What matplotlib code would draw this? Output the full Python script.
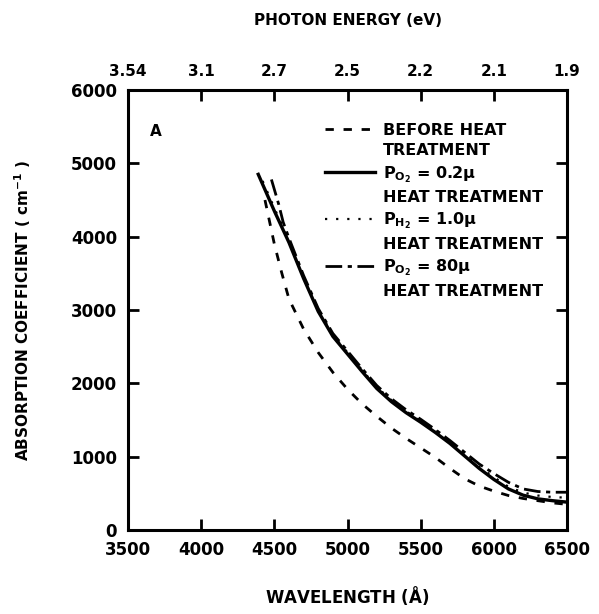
import numpy as np
import matplotlib
matplotlib.use("Agg")
import matplotlib.pyplot as plt
from matplotlib.lines import Line2D

# wavelength (Angstrom) and absorption coefficient (cm^-1)
wl_before = [4436, 4500, 4550, 4600, 4700, 4800, 4900, 5000, 5100, 5200, 5300, 5400,
             5500, 5600, 5700, 5800, 5900, 6000, 6100, 6200, 6300, 6400, 6500]
a_before = [4500, 3900, 3510, 3150, 2740, 2420, 2150, 1920, 1720, 1550, 1390, 1250,
            1120, 990, 840, 700, 600, 530, 470, 430, 400, 370, 350]

wl_o2_low = [4390, 4500, 4600, 4700, 4800, 4900, 5000, 5100, 5200, 5300, 5400,
             5500, 5600, 5700, 5800, 5900, 6000, 6100, 6200, 6300, 6400, 6500]
a_o2_low = [4850, 4350, 3920, 3430, 2980, 2640, 2400, 2160, 1930, 1750, 1600,
            1470, 1330, 1180, 1010, 840, 690, 560, 475, 425, 400, 380]

wl_h2 = [4420, 4500, 4600, 4700, 4800, 4900, 5000, 5100, 5200, 5300, 5400,
         5500, 5600, 5700, 5800, 5900, 6000, 6100, 6200, 6300, 6400, 6500]
a_h2 = [4760, 4390, 3950, 3450, 3000, 2660, 2420, 2180, 1950, 1770, 1620,
        1490, 1350, 1200, 1030, 860, 720, 590, 510, 470, 450, 440]

wl_o2_high = [4480, 4530, 4560, 4600, 4700, 4800, 4900, 5000, 5100, 5200, 5300, 5400,
              5500, 5600, 5700, 5800, 5900, 6000, 6100, 6200, 6300, 6400, 6500]
a_o2_high = [4780, 4440, 4200, 3980, 3470, 3020, 2680, 2440, 2200, 1970, 1790, 1640,
             1510, 1370, 1220, 1060, 900, 770, 650, 560, 525, 515, 515]

x_ticks = [3500, 4000, 4500, 5000, 5500, 6000, 6500]
energy_labels = ["3.54", "3.1", "2.7", "2.5", "2.2", "2.1", "1.9"]
y_ticks = [0, 1000, 2000, 3000, 4000, 5000, 6000]

plt.rcParams['font.family'] = ['DejaVu Sans']
plt.rcParams['font.weight'] = 'bold'

fig = plt.figure(figsize=(5.99, 6.14), dpi=100)
ax = fig.add_axes([0.2137, 0.1368, 0.7329, 0.7166])

l1, = ax.plot(wl_before, a_before, color='black', lw=2.0, linestyle=(0, (3, 3.5)))
l2, = ax.plot(wl_o2_low, a_o2_low, color='black', lw=2.4, linestyle='-')
l3, = ax.plot(wl_h2, a_h2, color='black', lw=1.6, linestyle=(0, (1, 4)))
l4, = ax.plot(wl_o2_high, a_o2_high, color='black', lw=2.0, linestyle=(0, (6, 2, 1.5, 2)))

ax.set_xlim(3500, 6500)
ax.set_ylim(0, 6000)
ax.set_xticks(x_ticks)
ax.set_yticks(y_ticks)
ax.tick_params(direction='in', length=8, width=2, labelsize=12, pad=8,
               top=False, right=True)
for sp in ax.spines.values():
    sp.set_linewidth(2.2)

ax.set_xlabel("WAVELENGTH ($\\mathbf{\\AA}$)", fontsize=12, fontweight='bold', labelpad=18)
ax.set_ylabel("ABSORPTION COEFFICIENT ( cm$^{\\mathbf{-1}}$ )", fontsize=11,
              fontweight='bold', labelpad=27)

top = ax.twiny()
top.set_xlim(ax.get_xlim())
top.set_xticks(x_ticks)
top.set_xticklabels(energy_labels)
top.tick_params(direction='in', length=8, width=2, labelsize=11, pad=8)
top.set_xlabel("PHOTON ENERGY (eV)", fontsize=11, fontweight='bold', labelpad=28)

ax.text(0.05, 0.905, "A", transform=ax.transAxes, fontsize=11, fontweight='bold',
        va='center', ha='left')

blank = Line2D([], [], linestyle='none')
handles = [l1, blank, l2, blank, l3, blank, l4, blank]
labels = ["BEFORE HEAT", "TREATMENT",
          "P$_{\\mathbf{O_2}}$ = 0.2$\\mathbf{\\mu}$", "HEAT TREATMENT",
          "P$_{\\mathbf{H_2}}$ = 1.0$\\mathbf{\\mu}$", "HEAT TREATMENT",
          "P$_{\\mathbf{O_2}}$ = 80$\\mathbf{\\mu}$", "HEAT TREATMENT"]
leg = ax.legend(handles, labels, loc='upper left', bbox_to_anchor=(0.435, 0.94),
                frameon=False, fontsize=11.5, handlelength=3.1, handletextpad=0.5,
                labelspacing=0.35, borderaxespad=0)

fig.savefig("out.png", dpi=100)
